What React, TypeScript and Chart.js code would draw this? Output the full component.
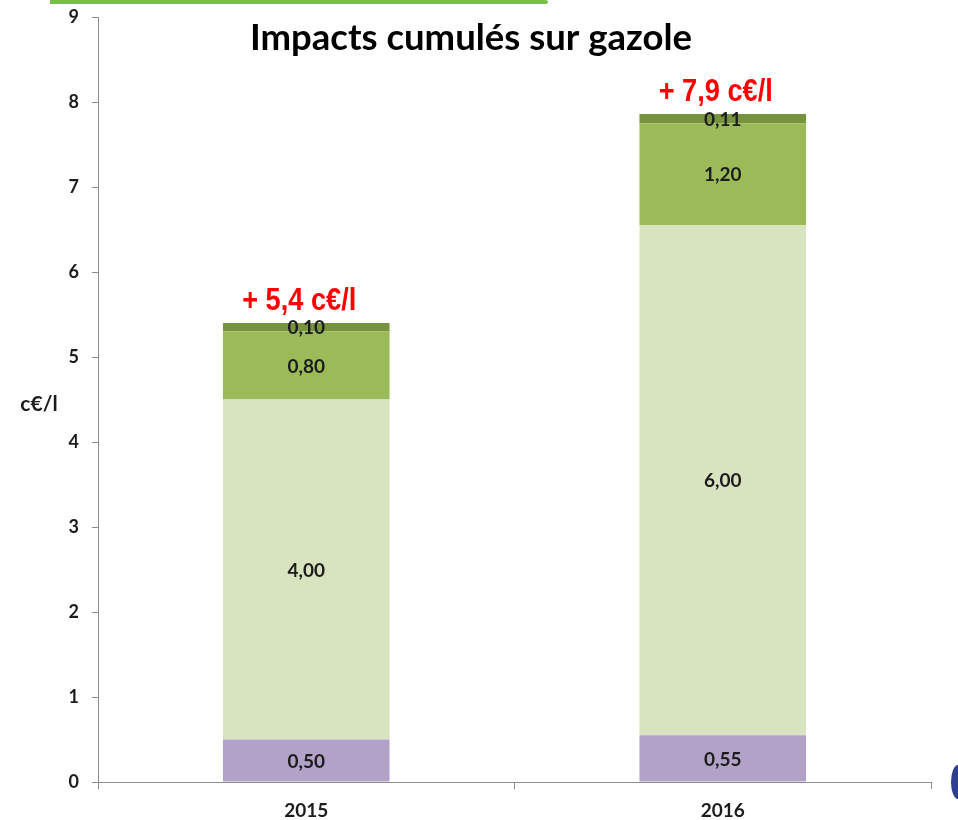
import React, { useEffect, useRef } from "react";
import { Chart, registerables } from "chart.js";

Chart.register(...registerables);

const categories = ["2015", "2016"];
const seriesPurple = [0.5, 0.55];
const seriesLightGreen = [4.0, 6.0];
const seriesMidGreen = [0.8, 1.2];
const seriesDarkGreen = [0.1, 0.11];
const totalLabels = ["+ 5,4 c€/l", "+ 7,9 c€/l"];
const titleText = "Impacts cumulés sur gazole";
const yAxisLabel = "c€/l";

const FONT = "Lato, 'Open Sans', sans-serif";

const overlayPlugin = {
  id: "overlay",
  afterDatasetsDraw(chart: any) {
    const ctx = chart.ctx;
    ctx.save();
    // segment value labels
    ctx.font = `bold 19px ${FONT}`;
    ctx.fillStyle = "#1c1c1c";
    ctx.textAlign = "center";
    ctx.textBaseline = "middle";
    chart.data.datasets.forEach((ds: any, di: number) => {
      const meta = chart.getDatasetMeta(di);
      meta.data.forEach((bar: any, i: number) => {
        const v = ds.data[i];
        const txt = v.toFixed(2).replace(".", ",");
        ctx.fillText(txt, bar.x, (bar.y + bar.base) / 2 + 1);
      });
    });
    // totals (narrow bold red)
    const last = chart.getDatasetMeta(chart.data.datasets.length - 1);
    ctx.font = `bold 32px 'Liberation Sans', Arial, sans-serif`;
    ctx.fillStyle = "#ff0000";
    ctx.textBaseline = "alphabetic";
    last.data.forEach((bar: any, i: number) => {
      ctx.save();
      ctx.translate(bar.x - 7, bar.y - 13);
      ctx.scale(0.85, 1);
      ctx.fillText(totalLabels[i], 0, 0);
      ctx.restore();
    });
    // title
    ctx.font = `bold 36.5px ${FONT}`;
    ctx.fillStyle = "#000";
    ctx.textBaseline = "middle";
    ctx.fillText(titleText, 471, 38);
    // y axis label
    ctx.font = `bold 21px ${FONT}`;
    ctx.fillStyle = "#1c1c1c";
    ctx.fillText(yAxisLabel, 39, 404);
    // decorative top strip
    ctx.fillStyle = "#77c044";
    ctx.beginPath();
    ctx.moveTo(50, 0);
    ctx.lineTo(545, 0);
    ctx.quadraticCurveTo(548, 0, 548, 2);
    ctx.quadraticCurveTo(548, 4, 545, 4);
    ctx.lineTo(50, 4);
    ctx.closePath();
    ctx.fill();
    // right-edge blue remnant
    ctx.fillStyle = "#2f3f8f";
    ctx.beginPath();
    ctx.ellipse(958, 782, 7, 17, 0, Math.PI / 2, (3 * Math.PI) / 2);
    ctx.fill();
    ctx.restore();
  },
};

export default function App() {
  const ref = useRef<HTMLCanvasElement | null>(null);
  useEffect(() => {
    if (!ref.current) return;
    const chart = new Chart(ref.current, {
      type: "bar",
      data: {
        labels: categories,
        datasets: [
          { label: "a", data: seriesPurple, backgroundColor: "#b3a2c8" },
          { label: "b", data: seriesLightGreen, backgroundColor: "#d8e4bf" },
          { label: "c", data: seriesMidGreen, backgroundColor: "#9bbb59" },
          { label: "d", data: seriesDarkGreen, backgroundColor: "#78933d" },
        ],
      },
      options: {
        responsive: false,
        animation: false,
        layout: { padding: { top: 17, right: 27, left: 0, bottom: 0 } },
        datasets: { bar: { barPercentage: 0.4, categoryPercentage: 1 } },
        plugins: { legend: { display: false }, tooltip: { enabled: false }, title: { display: false } },
        scales: {
          x: {
            stacked: true,
            grid: { offset: true, drawOnChartArea: false, tickLength: 7, color: "#8c8c8c" },
            border: { color: "#8c8c8c" },
            ticks: { font: { family: FONT, size: 19, weight: "bold" }, color: "#1c1c1c", padding: 10 },
            afterFit: (s: any) => { s.height = 38; s.paddingLeft = 0; s.paddingRight = 0; },
          },
          y: {
            stacked: true,
            min: 0,
            max: 9,
            ticks: { stepSize: 1, font: { family: FONT, size: 18, weight: "bold" }, color: "#1c1c1c", padding: 13 },
            grid: { drawOnChartArea: false, tickLength: 6, color: "#8c8c8c" },
            border: { color: "#8c8c8c" },
            afterFit: (s: any) => { s.width = 98; s.paddingTop = 0; s.paddingBottom = 0; },
          },
        },
      },
      plugins: [overlayPlugin],
    } as any);
    return () => chart.destroy();
  }, []);
  return (
    <div style={{ position: "absolute", left: 0, top: 0, width: 958, height: 820, background: "#fff" }}>
      <canvas ref={ref} width={958} height={820} style={{ display: "block" }} />
    </div>
  );
}
